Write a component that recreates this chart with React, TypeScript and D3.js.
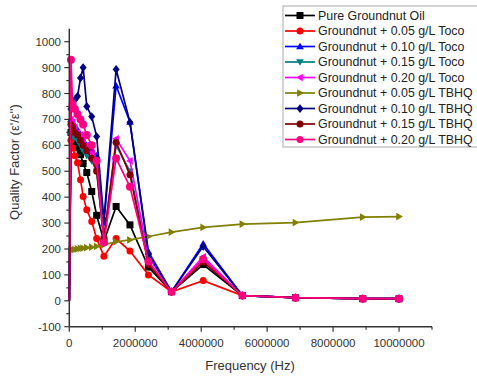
import { useEffect, useRef } from "react"
import * as d3 from "d3"

// frequencies (Hz) shared by every series
const freqs = [20, 5e4, 1e5, 1.7e5, 2.5e5, 3.4e5, 4.2e5, 5.3e5, 6.8e5, 8.3e5, 1.05e6, 1.42e6, 1.84e6, 2.4e6, 3.1e6, 4.06e6, 5.25e6, 6.86e6, 8.9e6, 1e7]

const pureOil = [0, 650, 620, 600, 590, 564, 530, 495, 422, 330, 230, 364, 293, 130, 35, 140, 20, 12, 8, 8]
const toco005 = [0, 620, 590, 560, 533, 467, 403, 351, 306, 240, 172, 240, 192, 100, 35, 78, 20, 12, 8, 8]
const toco010 = [0, 700, 690, 670, 660, 640, 620, 600, 585, 560, 300, 830, 690, 190, 35, 220, 20, 12, 8, 8]
const toco015 = [0, 640, 635, 630, 620, 600, 580, 560, 540, 500, 240, 600, 500, 150, 35, 160, 20, 12, 8, 8]
const toco020 = [0, 700, 690, 670, 650, 640, 620, 600, 570, 520, 230, 625, 540, 170, 35, 170, 20, 12, 8, 8]
const tbhq005 = [185, 195, 197, 198, 200, 202, 203, 205, 207, 210, 216, 228, 235, 248, 265, 283, 296, 302, 323, 325]
const tbhq010 = [0, 740, 760, 776, 789, 860, 900, 750, 711, 634, 313, 893, 689, 180, 35, 210, 20, 12, 8, 8]
const tbhq015 = [0, 680, 670, 650, 640, 620, 600, 580, 550, 500, 240, 612, 486, 140, 35, 150, 20, 12, 8, 8]
const tbhq020 = [0, 930, 760, 740, 720, 700, 680, 640, 600, 540, 225, 550, 440, 152, 35, 160, 20, 12, 8, 8]

const names = [
  "Pure Groundnut Oil",
  "Groundnut + 0.05 g/L Toco",
  "Groundnut + 0.10 g/L Toco",
  "Groundnut + 0.15 g/L Toco",
  "Groundnut + 0.20 g/L Toco",
  "Groundnut + 0.05 g/L TBHQ",
  "Groundnut + 0.10 g/L TBHQ",
  "Groundnut + 0.15 g/L TBHQ",
  "Groundnut + 0.20 g/L TBHQ",
]
const values = [pureOil, toco005, toco010, toco015, toco020, tbhq005, tbhq010, tbhq015, tbhq020]
const colors = ["#000000", "#ff0000", "#0000ff", "#008080", "#ff00ff", "#808000", "#000080", "#800000", "#ff0080"]
const symbols = ["square", "circle", "triUp", "triDown", "triLeft", "triRight", "diamond", "circle", "circle"]

const xTicks = [0, 2000000, 4000000, 6000000, 8000000, 10000000]
const yTicks = [-100, 0, 100, 200, 300, 400, 500, 600, 700, 800, 900, 1000]

function markerPath(kind, s) {
  const r = s / 2
  switch (kind) {
    case "square":
      return `M${-r},${-r}H${r}V${r}H${-r}Z`
    case "triUp":
      return `M0,${-r * 1.1}L${r * 1.1},${r * 0.8}L${-r * 1.1},${r * 0.8}Z`
    case "triDown":
      return `M0,${r * 1.1}L${r * 1.1},${-r * 0.8}L${-r * 1.1},${-r * 0.8}Z`
    case "triLeft":
      return `M${-r * 1.1},0L${r * 0.8},${-r * 1.1}L${r * 0.8},${r * 1.1}Z`
    case "triRight":
      return `M${r * 1.1},0L${-r * 0.8},${-r * 1.1}L${-r * 0.8},${r * 1.1}Z`
    case "diamond":
      return `M0,${-r * 1.25}L${r},0L0,${r * 1.25}L${-r},0Z`
    default:
      return d3.symbol(d3.symbolCircle, Math.PI * r * r)()
  }
}

export default function App() {
  const svgRef = useRef(null)

  useEffect(() => {
    const svg = d3.select(svgRef.current)
    svg.selectAll("*").remove()

    const x = d3.scaleLinear().domain([0, 11000000]).range([69.3, 432])
    const y = d3.scaleLinear().domain([-100, 1000]).range([326.7, 41.7])
    const font = "Liberation Sans, Arial, sans-serif"

    // series
    const line = d3.line().x((d) => x(d[0])).y((d) => y(d[1]))
    values.forEach((vals, i) => {
      const pts = freqs.map((f, j) => [f, vals[j]])
      const g = svg.append("g")
      g.append("path")
        .attr("d", line(pts))
        .attr("fill", "none")
        .attr("stroke", colors[i])
        .attr("stroke-width", 1.7)
      g.selectAll("path.m")
        .data(pts.slice(1))
        .join("path")
        .attr("class", "m")
        .attr("transform", (d) => `translate(${x(d[0])},${y(d[1])})`)
        .attr("d", markerPath(symbols[i], i === 8 ? 8 : 7))
        .attr("fill", colors[i])
    })

    // axes
    const axisColor = "#333"
    const yAxis = svg.append("g")
    yAxis.append("line").attr("x1", 69.3).attr("x2", 69.3).attr("y1", y(-100)).attr("y2", y(1050))
      .attr("stroke", axisColor).attr("stroke-width", 1.5)
    d3.range(-100, 1050, 50).forEach((v) => {
      const major = v % 100 === 0
      yAxis.append("line").attr("x1", 69.3).attr("x2", 69.3 - (major ? 5 : 3)).attr("y1", y(v)).attr("y2", y(v))
        .attr("stroke", axisColor).attr("stroke-width", 1.2)
    })
    yTicks.forEach((v) => {
      yAxis.append("text").attr("x", 61).attr("y", y(v) + 4).attr("text-anchor", "end")
        .attr("font-family", font).attr("font-size", 11.5).attr("fill", "#333").text(v)
    })

    const xAxis = svg.append("g")
    xAxis.append("line").attr("x1", 69.3).attr("x2", x(11000000)).attr("y1", 326.7).attr("y2", 326.7)
      .attr("stroke", axisColor).attr("stroke-width", 1.5)
    d3.range(0, 11000001, 1000000).forEach((v) => {
      const major = v % 2000000 === 0
      xAxis.append("line").attr("x1", x(v)).attr("x2", x(v)).attr("y1", 326.7).attr("y2", 326.7 + (major ? 5 : 3))
        .attr("stroke", axisColor).attr("stroke-width", 1.2)
    })
    xTicks.forEach((v) => {
      xAxis.append("text").attr("x", x(v)).attr("y", 347).attr("text-anchor", "middle")
        .attr("font-family", font).attr("font-size", 11.5).attr("fill", "#333").text(v)
    })

    svg.append("text").attr("x", 250).attr("y", 370).attr("text-anchor", "middle")
      .attr("font-family", font).attr("font-size", 13).attr("fill", "#333").text("Frequency (Hz)")
    svg.append("text").attr("transform", "translate(19,162) rotate(-90)").attr("text-anchor", "middle")
      .attr("font-family", font).attr("font-size", 13).attr("fill", "#333").text("Quality Factor (ε'/ε'')")

    // legend
    const lg = svg.append("g")
    lg.append("rect").attr("x", 283).attr("y", 6).attr("width", 200).attr("height", 141)
      .attr("fill", "#fff").attr("stroke", "#aaa").attr("stroke-width", 1)
    names.forEach((n, i) => {
      const ly = 15.5 + i * 15.5
      lg.append("line").attr("x1", 285).attr("x2", 315).attr("y1", ly).attr("y2", ly)
        .attr("stroke", colors[i]).attr("stroke-width", 1.7)
      lg.append("path").attr("transform", `translate(300,${ly})`).attr("d", markerPath(symbols[i], 7))
        .attr("fill", colors[i])
      lg.append("text").attr("x", 318).attr("y", ly + 4).attr("font-family", font).attr("font-size", 12.4)
        .attr("fill", "#222").text(n)
    })
  }, [])

  return (
    <svg ref={svgRef} width={477} height={377}
      style={{ position: "absolute", left: 0, top: 0, background: "#fff" }} />
  )
}
